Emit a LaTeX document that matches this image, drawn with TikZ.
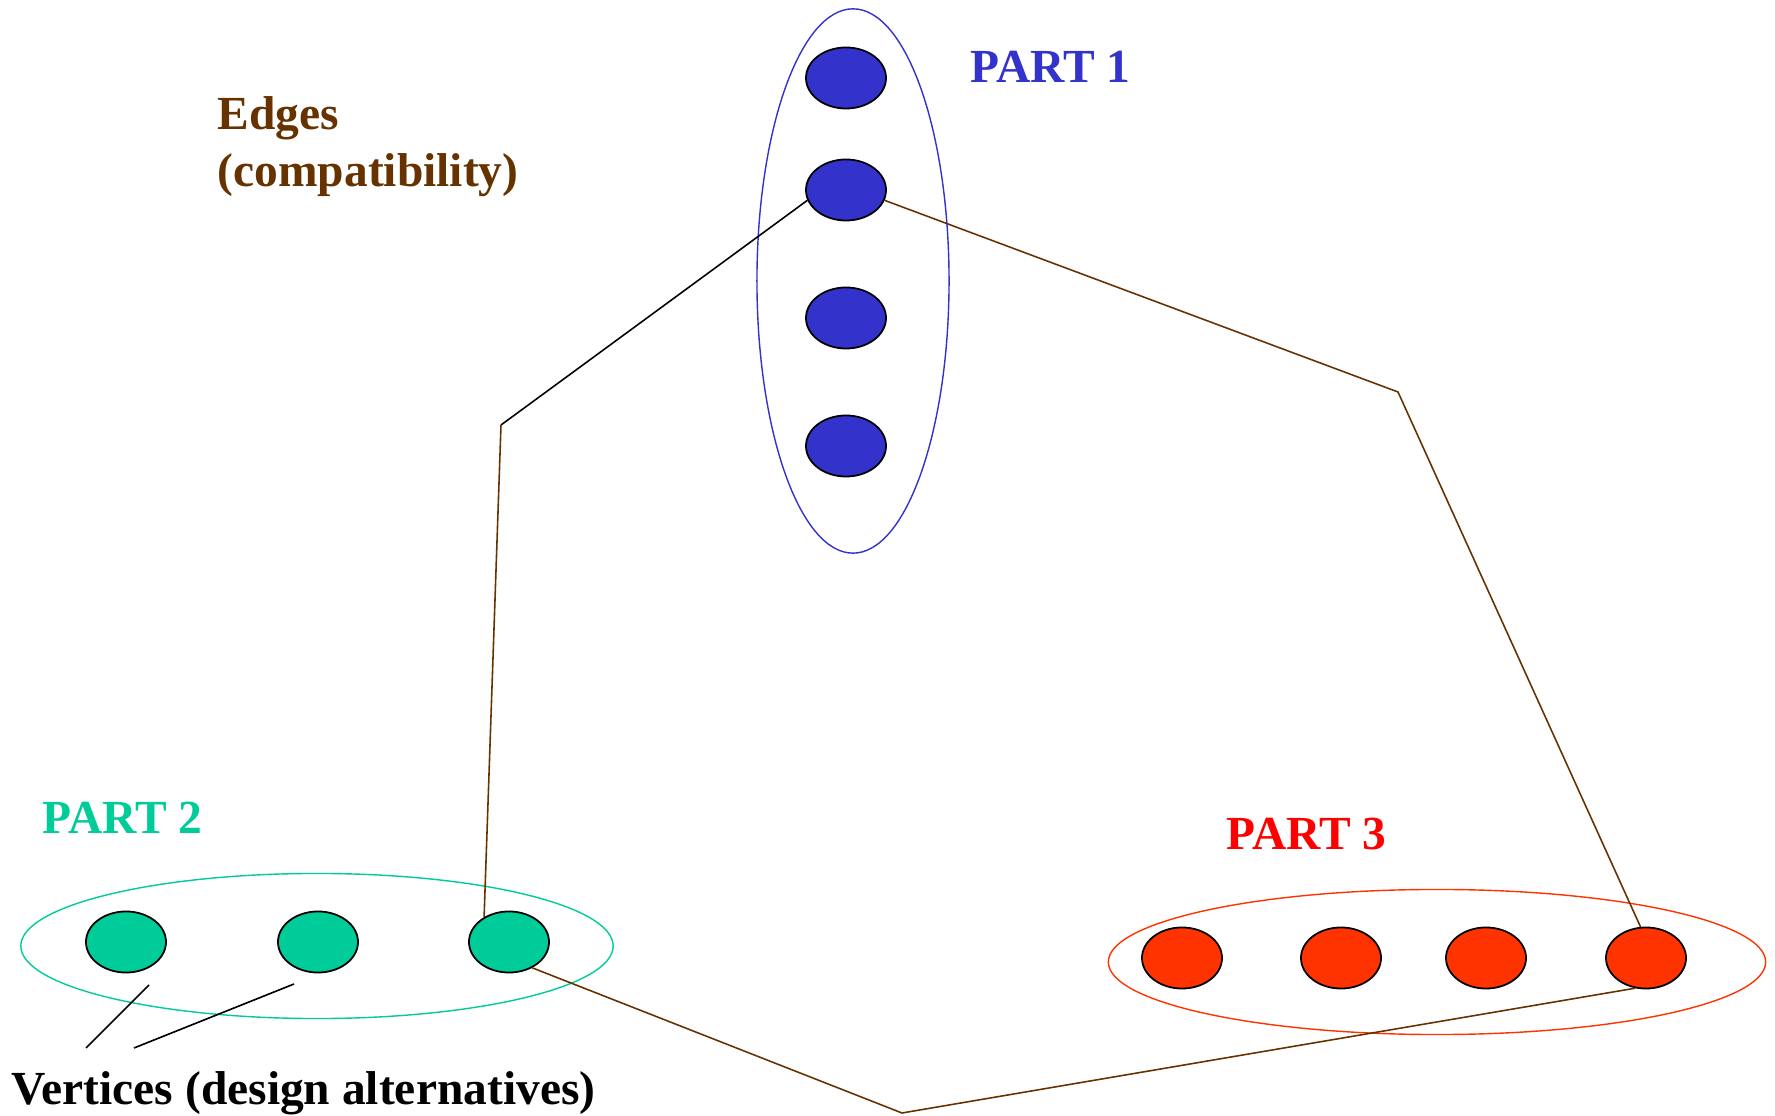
\documentclass[tikz,border=0pt]{standalone}
\usepackage{fontspec}
\setmainfont{Liberation Serif}
\usetikzlibrary{shapes.geometric}

\definecolor{partblue}{RGB}{51,51,204}
\definecolor{partgreen}{RGB}{0,204,153}
\definecolor{partred}{RGB}{255,51,0}
\definecolor{labelred}{RGB}{255,0,0}
\definecolor{edgebrown}{RGB}{102,51,0}

\tikzset{
  vertex/.style={ellipse, draw=black, line width=0.5pt, minimum width=0.8cm, minimum height=0.61cm, inner sep=0pt},
  part/.style={ellipse, line width=0.4pt, inner sep=0pt},
  edge/.style={line width=0.45pt, edgebrown},
  title/.style={font=\fontsize{13.5pt}{16pt}\selectfont\bfseries, anchor=base west, inner sep=0pt},
}

\begin{document}
\begin{tikzpicture}[x=0.01cm, y=-0.01cm]
\useasboundingbox (0,0) rectangle (1775,1116);

%%% part 1 %%%%
%% nodes
\node[part, draw=partblue, minimum width=1.92cm, minimum height=5.44cm] (p1) at (853,281) {};
\node[vertex, fill=partblue] (a1) at (846,78) {};
\node[vertex, fill=partblue] (a2) at (846,190) {};
\node[vertex, fill=partblue] (a3) at (846,318) {};
\node[vertex, fill=partblue] (a4) at (846,446) {};

%%% part 2 %%%%
%% nodes
\node[part, draw=partgreen, minimum width=5.92cm, minimum height=1.45cm] (p2) at (317,946) {};
\node[vertex, fill=partgreen] (c1) at (126,942) {};
\node[vertex, fill=partgreen] (c2) at (318,942) {};
\node[vertex, fill=partgreen] (c3) at (509,942) {};

%%% part 3 %%%%
%% nodes
\node[part, draw=partred, minimum width=6.57cm, minimum height=1.45cm] (p3) at (1437,962) {};
\node[vertex, fill=partred] (d1) at (1182,958) {};
\node[vertex, fill=partred] (d2) at (1341,958) {};
\node[vertex, fill=partred] (d3) at (1486,958) {};
\node[vertex, fill=partred] (d4) at (1646,958) {};

%% edges
\coordinate (bl) at (501,425);
\coordinate (br) at (1398,392);
\coordinate (bb) at (902,1113);
\draw[line width=0.45pt] (a2.195) to (bl);
\draw[edge] (bl) to (c3.135);
\draw[edge] (a2.345) to (br) to (d4.100);
\draw[edge] (c3.312) to (bb) to (d4.250);

%% labels
\node[title, text=partblue] (t1) at (970,83) {PART 1};
\node[title, text=partgreen] (t2) at (42,834) {PART 2};
\node[title, text=labelred] (t3) at (1226,850) {PART 3};
\node[title, text=edgebrown] (e1) at (217,130) {Edges};
\node[title, text=edgebrown] (e2) at (217,187) {(compatibility)};
\node[title] (v) at (11,1104) {Vertices (design alternatives)};

%% pointers
\coordinate (v1) at (86,1048);
\coordinate (v2) at (134,1048);
\coordinate (w1) at (149,985);
\coordinate (w2) at (294,984);
\draw[line width=0.45pt] (v1) to (w1);
\draw[line width=0.45pt] (v2) to (w2);

\end{tikzpicture}
\end{document}
